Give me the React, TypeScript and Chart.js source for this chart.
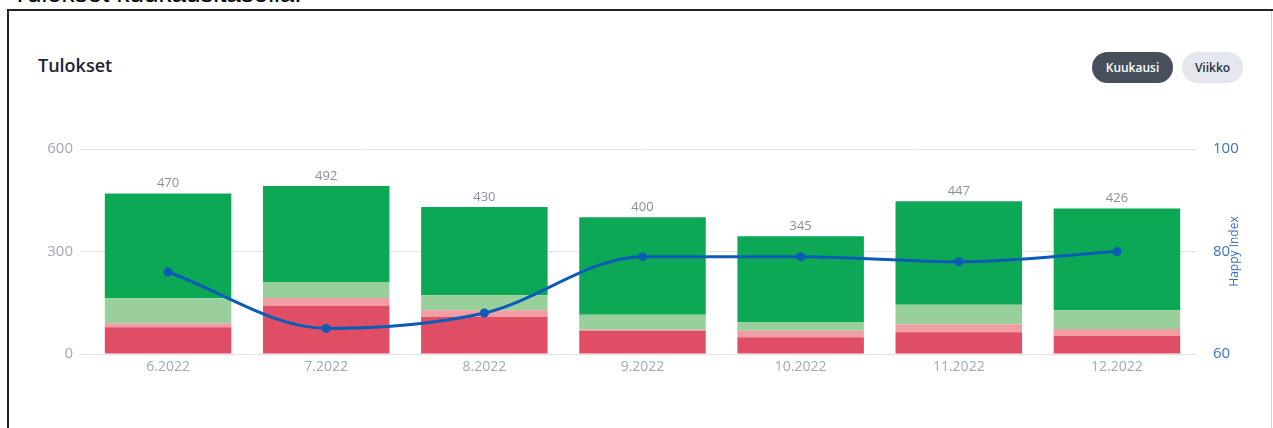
import React, { useEffect, useRef } from 'react';
import { Chart, registerables } from 'chart.js';

Chart.register(...registerables);

const categories = ['6.2022', '7.2022', '8.2022', '9.2022', '10.2022', '11.2022', '12.2022'];
const redValues = [78, 141, 109, 68, 49, 64, 53];
const pinkValues = [12, 23, 19, 3, 19, 23, 20];
const lightGreenValues = [73, 47, 44, 44, 26, 57, 55];
const greenValues = [307, 281, 258, 285, 251, 303, 298];
const happyIndex = [76, 65, 68, 79, 79, 78, 80];
const leftTicks = [0, 300, 600];
const rightTicks = [60, 80, 100];

const barSeries = [redValues, pinkValues, lightGreenValues, greenValues];

const FONT = "'Open Sans', 'Noto Sans', sans-serif";
const BLUE = '#0b5cb6';

const totalsPlugin = {
  id: 'totals',
  afterDatasetsDraw(chart: any) {
    const ctx = chart.ctx;
    const meta = chart.getDatasetMeta(chart.data.datasets.length - 1);
    ctx.save();
    ctx.font = `13px ${FONT}`;
    ctx.fillStyle = '#8b909a';
    ctx.textAlign = 'center';
    ctx.textBaseline = 'middle';
    meta.data.forEach((el: any, i: number) => {
      const total = barSeries.reduce((s, arr) => s + arr[i], 0);
      ctx.fillText(String(total), el.x, el.y - 10);
    });
    ctx.restore();
  },
};

const rightTitlePlugin = {
  id: 'rightTitle',
  afterDraw(chart: any) {
    const ctx = chart.ctx;
    const s = chart.scales.y1;
    const area = chart.chartArea;
    ctx.save();
    ctx.translate(s.right - 8, (area.top + area.bottom) / 2);
    ctx.rotate(-Math.PI / 2);
    ctx.font = `12px ${FONT}`;
    ctx.fillStyle = '#3d72c2';
    ctx.textAlign = 'center';
    ctx.textBaseline = 'middle';
    ctx.fillText('Happy Index', 0, 0);
    ctx.restore();
  },
};

export default function App() {
  const canvasRef = useRef<HTMLCanvasElement | null>(null);

  useEffect(() => {
    if (!canvasRef.current) return;
    const chart = new Chart(canvasRef.current, {
      type: 'bar',
      data: {
        labels: categories,
        datasets: [
          {
            type: 'line',
            label: 'Happy Index',
            data: happyIndex,
            yAxisID: 'y1',
            borderColor: BLUE,
            backgroundColor: BLUE,
            borderWidth: 3,
            pointRadius: 4.5,
            pointBackgroundColor: BLUE,
            pointBorderWidth: 0,
            cubicInterpolationMode: 'monotone',
            order: 0,
          } as any,
          { label: 'red', data: redValues, backgroundColor: '#e04e66', borderWidth: 0, stack: 's', yAxisID: 'y', order: 1 },
          { label: 'pink', data: pinkValues, backgroundColor: '#f09ea3', borderWidth: 0, stack: 's', yAxisID: 'y', order: 1 },
          { label: 'lightgreen', data: lightGreenValues, backgroundColor: '#99cf9b', borderWidth: 0, stack: 's', yAxisID: 'y', order: 1 },
          { label: 'green', data: greenValues, backgroundColor: '#0da856', borderWidth: 0, stack: 's', yAxisID: 'y', order: 1 },
        ],
      },
      options: {
        responsive: false,
        animation: false,
        devicePixelRatio: 1,
        layout: { padding: { left: 29, right: 30, top: 149, bottom: 44 } },
        datasets: { bar: { categoryPercentage: 0.8, barPercentage: 1 } },
        plugins: { legend: { display: false }, tooltip: { enabled: false } },
        scales: {
          x: {
            stacked: true,
            grid: { display: false, drawTicks: false },
            border: { display: false },
            ticks: { color: '#a3a8b2', font: { family: FONT, size: 14 }, padding: 5 },
            afterFit: (s: any) => { s.height = 30; },
          },
          y: {
            stacked: true,
            position: 'left',
            min: 0,
            max: 600,
            afterBuildTicks: (s: any) => { s.ticks = leftTicks.map((v) => ({ value: v })); },
            ticks: { color: '#a3a8b2', font: { family: FONT, size: 15 }, padding: 7 },
            grid: { color: '#e2e2e4', tickLength: 9, lineWidth: 1 },
            border: { display: false },
            afterFit: (s: any) => { s.width = 60; },
          },
          y1: {
            position: 'right',
            min: 60,
            max: 100,
            afterBuildTicks: (s: any) => { s.ticks = rightTicks.map((v) => ({ value: v })); },
            ticks: { color: '#3d72c2', font: { family: FONT, size: 15 }, padding: 17 },
            grid: { display: false, drawTicks: false },
            border: { display: false },
            afterFit: (s: any) => { s.width = 47; },
          },
        },
      } as any,
      plugins: [totalsPlugin, rightTitlePlugin],
    });
    return () => chart.destroy();
  }, []);

  return (
    <div style={{ position: 'fixed', left: 0, top: 0, width: 1273, height: 428, overflow: 'hidden', background: '#fff' }}>
      <div style={{ position: 'absolute', left: 12, top: -22, fontFamily: "'Liberation Sans', Arial, sans-serif", fontSize: 26, color: '#000', whiteSpace: 'nowrap' }}>
        Tulokset kuukausitasolla:
      </div>
      <div style={{ position: 'absolute', left: 7, top: 9, width: 1300, height: 500, borderTop: '2px solid #222', borderLeft: '2px solid #222' }} />
      <div style={{ position: 'absolute', left: 1271, top: 11, width: 1, height: 420, background: '#d4d4d4' }} />
      <div style={{ position: 'absolute', left: 38, top: 53, fontFamily: FONT, fontWeight: 600, fontSize: 18, color: '#1d2233', whiteSpace: 'nowrap' }}>
        Tulokset
      </div>
      <div style={{ position: 'absolute', left: 1092, top: 52, width: 81, height: 31, borderRadius: 16, background: '#474f5c', color: '#fff', fontFamily: FONT, fontWeight: 600, fontSize: 12, display: 'flex', alignItems: 'center', justifyContent: 'center' }}>
        Kuukausi
      </div>
      <div style={{ position: 'absolute', left: 1182, top: 52, width: 61, height: 31, borderRadius: 16, background: '#e4e8ee', color: '#2b3040', fontFamily: FONT, fontWeight: 600, fontSize: 12, display: 'flex', alignItems: 'center', justifyContent: 'center' }}>
        Viikko
      </div>
      <canvas ref={canvasRef} width={1273} height={428} style={{ position: 'absolute', left: 0, top: 0, width: 1273, height: 428 }} />
    </div>
  );
}
